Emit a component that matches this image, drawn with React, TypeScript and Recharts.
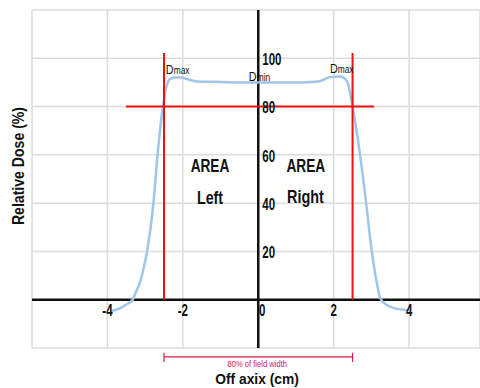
import React from "react";
import {
  LineChart,
  Line,
  XAxis,
  YAxis,
  CartesianGrid,
  ReferenceLine,
  ReferenceDot,
  Customized,
} from "recharts";

// beam profile
const profileX = [
  -3.93, -3.7, -3.5, -3.33, -3.25, -3.12, -3.04, -2.95, -2.78, -2.67, -2.53,
  -2.44, -2.33, -2.2, -2.05, -1.8, -1.62, -1.0, -0.5, 0, 0.5, 1.0, 1.59, 1.9,
  2.17, 2.33, 2.42, 2.5, 2.7, 2.86, 3.01, 3.12, 3.24, 3.36, 3.6, 4.02,
];
const profileDose = [
  -4.8, -3.8, -2, 0, 3, 8, 13, 20, 40, 60, 80, 88, 91.5, 92, 92, 91, 90.4, 90.2,
  90, 90, 90, 90, 90.4, 92.2, 92.5, 91, 87, 80, 60, 40, 20, 9, 0.5, -1.6, -3.5,
  -4.4,
];

const gridX = [-6, -4, -2, 0, 2, 4];
const gridY = [-20, 0, 20, 40, 60, 80, 100, 120];
const xTickLabels = [-4, -2, 0, 2, 4];
const yTickLabels = [20, 40, 60, 80, 100];

const fieldEdges = [-2.5, 2.5];
const fieldLevel = 80;

const data = profileX.map((x, i) => ({ x, dose: profileDose[i] }));

const FONT = "'Liberation Sans', Arial, sans-serif";

function SqText({
  x,
  y,
  text,
  size,
  sx = 0.75,
  anchor = "middle",
  weight = 700,
  fill = "#111",
  rotate = 0,
}: {
  x: number;
  y: number;
  text: string;
  size: number;
  sx?: number;
  anchor?: "start" | "middle" | "end";
  weight?: number;
  fill?: string;
  rotate?: number;
}) {
  return (
    <text
      transform={`translate(${x},${y}) rotate(${rotate}) scale(${sx},1)`}
      fontSize={size}
      fontWeight={weight}
      textAnchor={anchor}
      dominantBaseline="central"
      fill={fill}
      fontFamily={FONT}
    >
      {text}
    </text>
  );
}

// label drawn around the reference dot centre
const at =
  (draw: (cx: number, cy: number) => React.ReactNode) =>
  (props: any) => {
    const vb = props.viewBox || {};
    const cx = vb.x + (vb.width || 0) / 2;
    const cy = vb.y + (vb.height || 0) / 2;
    return <g>{draw(cx, cy)}</g>;
  };

const dLabel = (sub: string) =>
  at((cx, cy) => (
    <text
      transform={`translate(${cx},${cy}) scale(0.8,1)`}
      fontFamily={FONT}
      fill="#111"
    >
      <tspan fontSize={13.5}>D</tspan>
      <tspan fontSize={10.5}>{sub}</tspan>
    </text>
  ));

const Titles = () => (
  <g>
    <SqText x={18} y={166} text="Relative Dose (%)" size={16} sx={0.88} rotate={-90} />
    <SqText x={257} y={379} text="Off axix (cm)" size={15} sx={0.92} />
  </g>
);

export default function App() {
  return (
    <div style={{ position: "absolute", left: 0, top: 0, background: "#fff" }}>
      <LineChart
        width={480}
        height={388}
        data={data}
        margin={{ top: 10, right: 0, bottom: 40, left: 32 }}
      >
        <XAxis type="number" dataKey="x" domain={[-6, 5.88]} ticks={gridX} hide />
        <YAxis type="number" domain={[-20, 120]} ticks={gridY} hide />
        <CartesianGrid stroke="#dcdcdc" strokeWidth={1.5} />

        <ReferenceLine x={0} stroke="#111" strokeWidth={2.5} />
        <ReferenceLine y={0} stroke="#111" strokeWidth={2.5} />

        <Line
          type="monotone"
          dataKey="dose"
          stroke="#9fc5e8"
          strokeWidth={2.5}
          dot={false}
          isAnimationActive={false}
        />

        {fieldEdges.map((e) => (
          <ReferenceLine
            key={`edge${e}`}
            segment={[
              { x: e, y: 0 },
              { x: e, y: 102.2 },
            ]}
            stroke="#f01010"
            strokeWidth={2}
          />
        ))}
        <ReferenceLine
          segment={[
            { x: -3.51, y: fieldLevel },
            { x: 3.07, y: fieldLevel },
          ]}
          stroke="#f01010"
          strokeWidth={2}
        />

        {/* 80% field width bracket */}
        <ReferenceLine
          segment={[
            { x: fieldEdges[0], y: -23.7 },
            { x: fieldEdges[1], y: -23.7 },
          ]}
          stroke="#d41a48"
          strokeWidth={1.2}
          ifOverflow="visible"
        />
        {fieldEdges.map((e) => (
          <ReferenceLine
            key={`tick${e}`}
            segment={[
              { x: e, y: -22 },
              { x: e, y: -25.8 },
            ]}
            stroke="#d41a48"
            strokeWidth={1.2}
            ifOverflow="visible"
          />
        ))}
        <ReferenceDot
          x={0}
          y={-26.3}
          r={0}
          ifOverflow="visible"
          label={at((cx, cy) => (
            <SqText x={cx - 1} y={cy} text="80% of field width" size={9.5} sx={0.8} weight={400} fill="#d41a48" />
          ))}
        />

        {xTickLabels.map((t) => (
          <ReferenceDot
            key={`xt${t}`}
            x={t}
            y={0}
            r={0}
            label={at((cx, cy) => (
              <SqText x={cx + (t === 0 ? 4 : 0)} y={cy + 11} text={String(t)} size={16} sx={0.72} />
            ))}
          />
        ))}
        {yTickLabels.map((t) => (
          <ReferenceDot
            key={`yt${t}`}
            x={0}
            y={t}
            r={0}
            label={at((cx, cy) => (
              <SqText x={cx + 4} y={cy + 1} text={String(t)} size={16} sx={0.72} anchor="start" />
            ))}
          />
        ))}

        <ReferenceDot x={-2.45} y={93.3} r={0} label={dLabel("max")} />
        <ReferenceDot x={-0.25} y={90.6} r={0} label={dLabel("min")} />
        <ReferenceDot x={1.9} y={93.9} r={0} label={dLabel("max")} />

        <ReferenceDot x={-1.28} y={55.4} r={0} label={at((cx, cy) => <SqText x={cx} y={cy} text="AREA" size={18} sx={0.76} />)} />
        <ReferenceDot x={-1.28} y={42.5} r={0} label={at((cx, cy) => <SqText x={cx} y={cy} text="Left" size={18} sx={0.79} />)} />
        <ReferenceDot x={1.26} y={55.4} r={0} label={at((cx, cy) => <SqText x={cx} y={cy} text="AREA" size={18} sx={0.76} />)} />
        <ReferenceDot x={1.25} y={43} r={0} label={at((cx, cy) => <SqText x={cx} y={cy} text="Right" size={18} sx={0.8} />)} />

        <Customized component={Titles} />
      </LineChart>
    </div>
  );
}
